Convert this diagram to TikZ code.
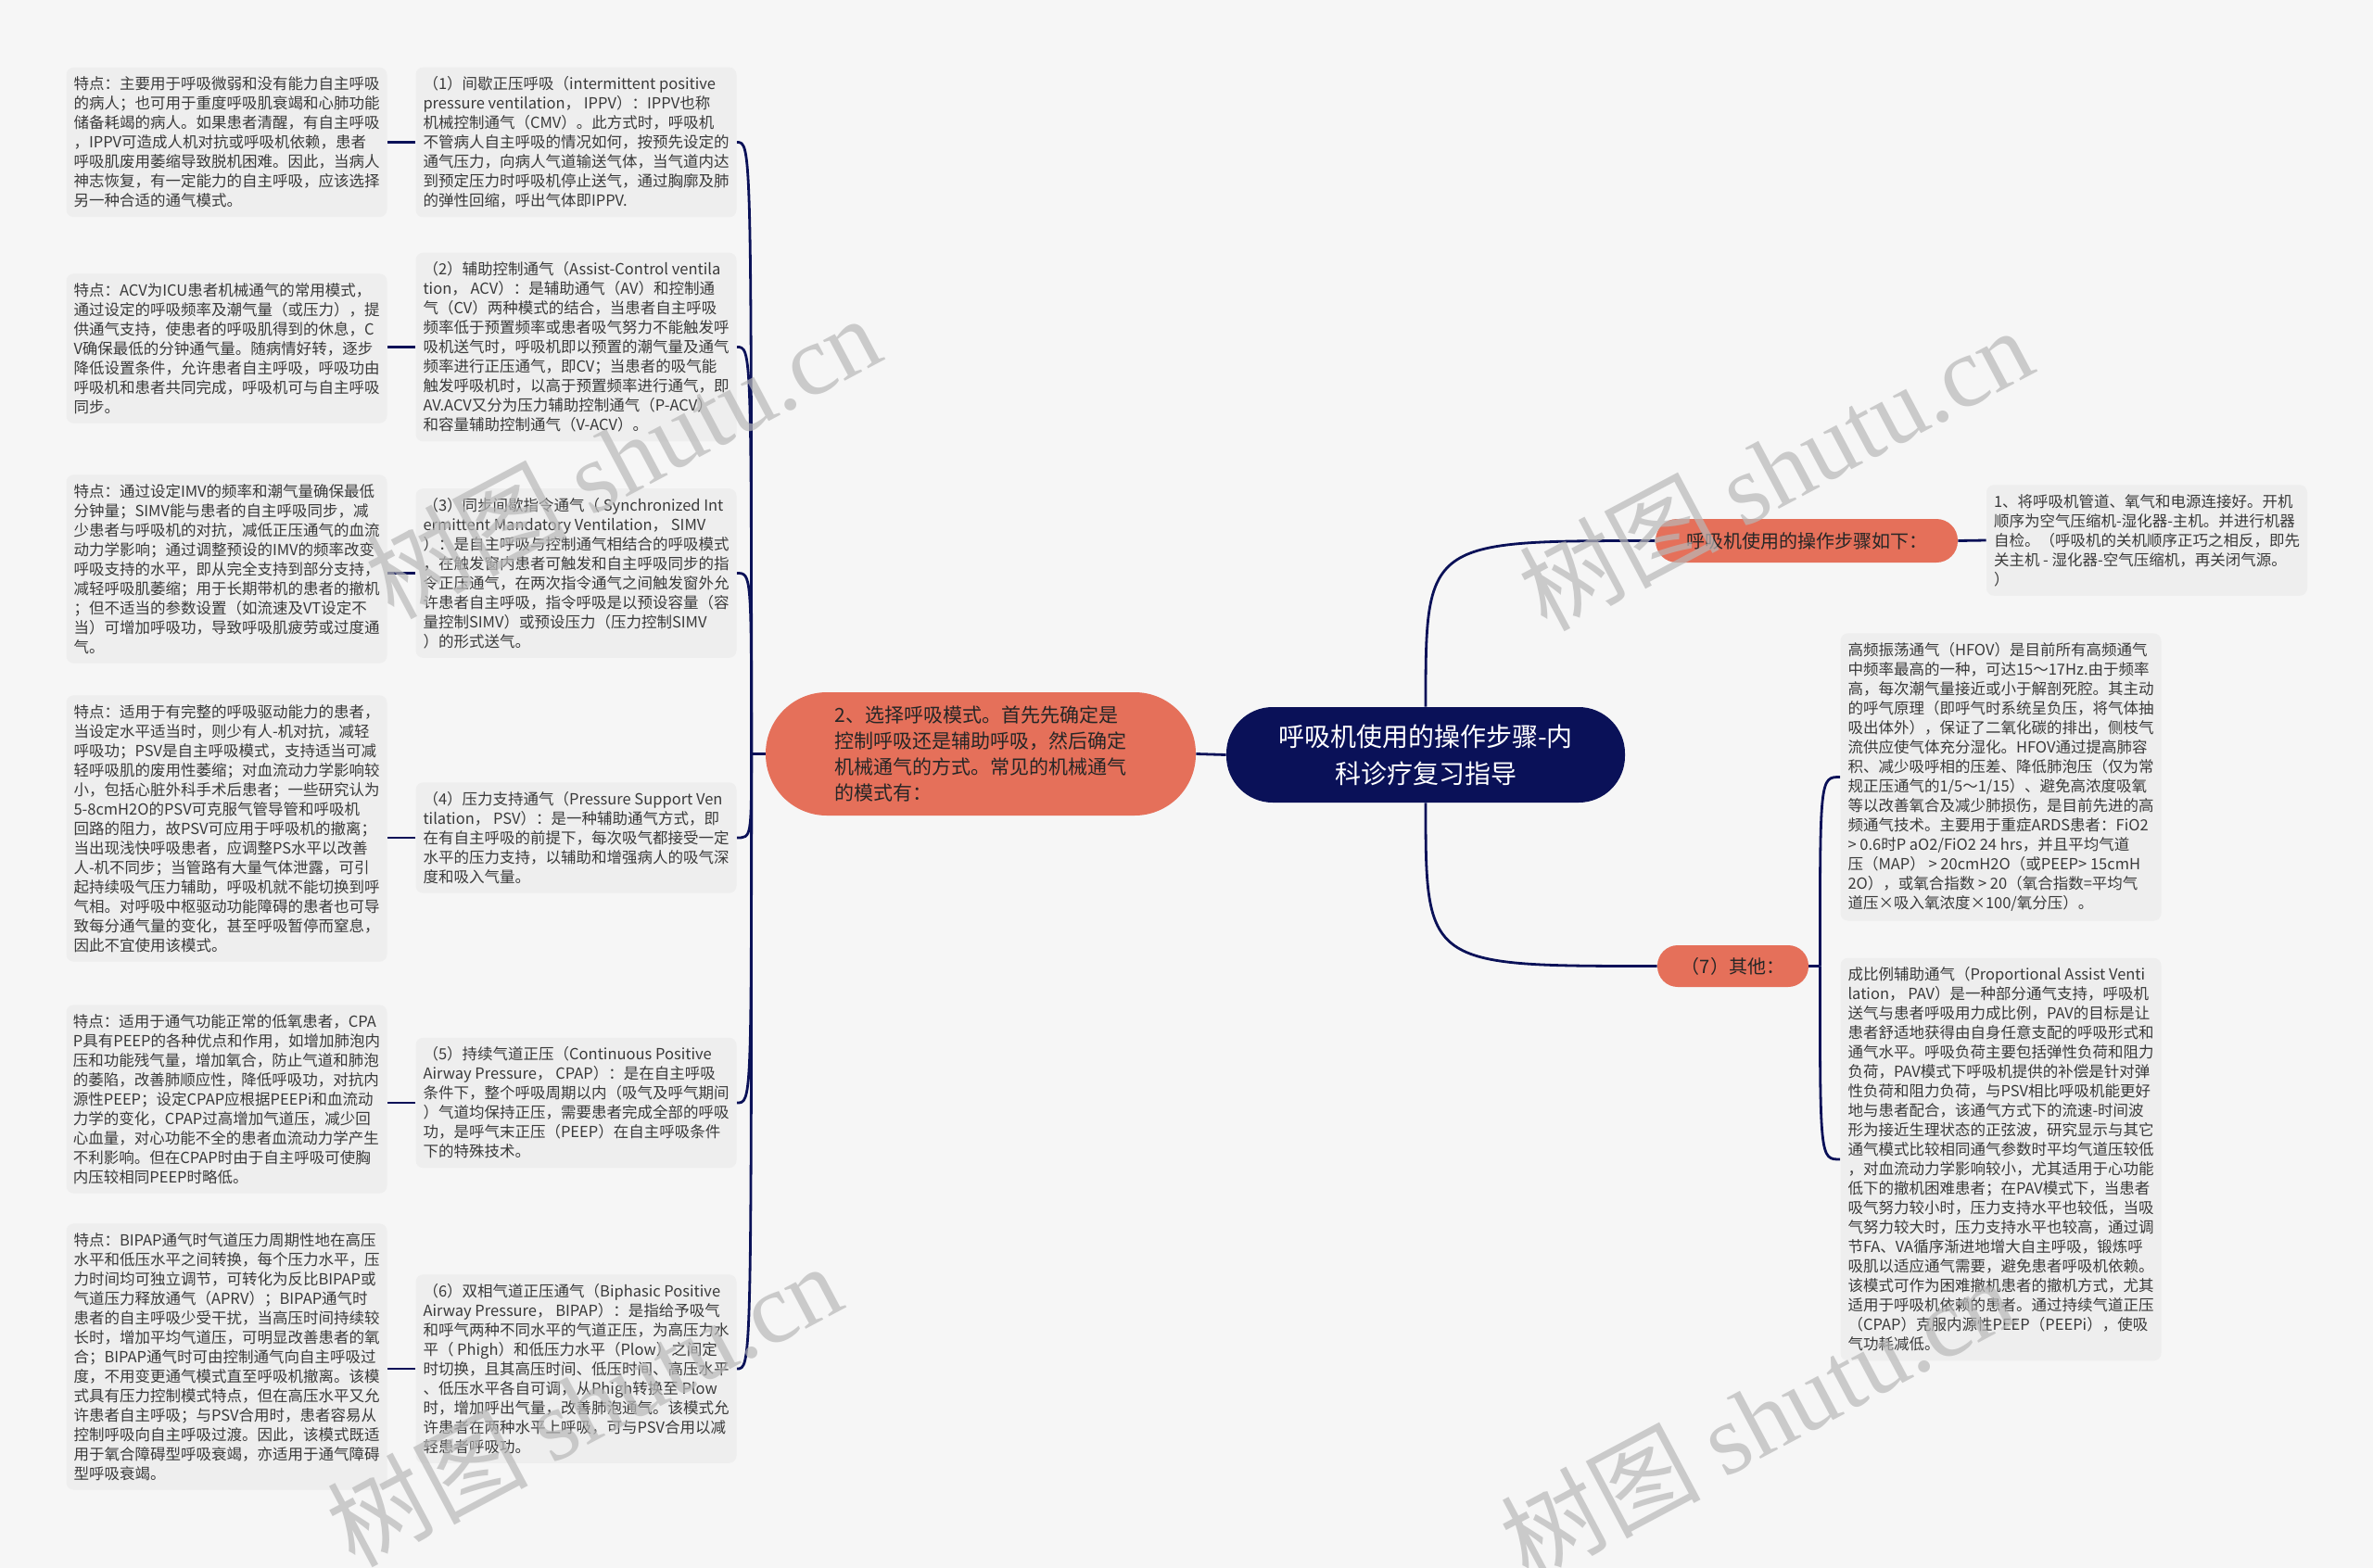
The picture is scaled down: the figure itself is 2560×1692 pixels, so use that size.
\documentclass[tikz,border=0pt]{standalone}
\usepackage{fontspec}
\setmainfont{Noto Sans CJK SC}
\newfontfamily\wmfont{Liberation Serif}
\usetikzlibrary{calc}
\definecolor{bgc}{HTML}{F6F6F6}
\definecolor{boxc}{HTML}{EEEEEE}
\definecolor{txt}{HTML}{3A3A3A}
\definecolor{navy}{HTML}{0A1158}
\definecolor{orng}{HTML}{E5705A}
\definecolor{wmc}{HTML}{B8B8B8}
\pgfdeclarelayer{bglayer}
\pgfsetlayers{bglayer,main}
\begin{document}
\begin{tikzpicture}[x=0.5pt,y=-0.5pt,
  tbox/.style={fill=boxc, rounded corners=4pt, align=left, inner xsep=3pt, inner ysep=5pt,
    minimum width=173pt, text=txt, font=\fontsize{8.25pt}{10.5pt}\selectfont},
  conn/.style={draw=navy, line width=1.4pt},
  onode/.style={fill=orng, text=black!85, inner sep=0pt},
  wm/.style={text=wmc, opacity=0.7, font=\fontsize{54pt}{54pt}\selectfont, rotate=28}
]
\begin{pgfonlayer}{bglayer}
\fill[bgc] (0,0) rectangle (2560,1692);
\end{pgfonlayer}
\useasboundingbox (0,0) rectangle (2560,1692);

% central node
\node[fill=navy, text=white, rounded corners=25pt, minimum width=215pt, minimum height=51.5pt,
  align=center, inner sep=0pt, font=\fontsize{14pt}{20pt}\selectfont] (c) at (1538,814.5)
  {呼吸机使用的操作步骤-内\\科诊疗复习指导};

% branch 2
\node[onode, rounded corners=33pt, minimum width=232pt, minimum height=66.5pt, align=left,
  font=\fontsize{10.5pt}{14pt}\selectfont] (n2) at (1058,813.5)
  {2、选择呼吸模式。首先先确定是\\控制呼吸还是辅助呼吸，然后确定\\机械通气的方式。常见的机械通气\\的模式有：};

% right branches
\node[onode, rounded corners=11.5pt, minimum width=163pt, minimum height=23.5pt,
  font=\fontsize{10pt}{12pt}\selectfont] (o1) at (1949,583.5) {呼吸机使用的操作步骤如下：};
\node[onode, rounded corners=11pt, minimum width=81.5pt, minimum height=22.5pt,
  font=\fontsize{10pt}{12pt}\selectfont] (o2) at (1869.5,1042.5) {（7）其他：};

\node[tbox] (tr) at (2316,583) {1、将呼吸机管道、氧气和电源连接好。开机\\
顺序为空气压缩机-湿化器-主机。并进行机器\\
自检。（呼吸机的关机顺序正巧之相反，即先\\
关主机 - 湿化器-空气压缩机，再关闭气源。\\
）};

\node[tbox] (r1) at (2158.5,838.5) {高频振荡通气（HFOV）是目前所有高频通气\\
中频率最高的一种，可达15～17Hz.由于频率\\
高，每次潮气量接近或小于解剖死腔。其主动\\
的呼气原理（即呼气时系统呈负压，将气体抽\\
吸出体外），保证了二氧化碳的排出，侧枝气\\
流供应使气体充分湿化。HFOV通过提高肺容\\
积、减少吸呼相的压差、降低肺泡压（仅为常\\
规正压通气的1/5～1/15）、避免高浓度吸氧\\
等以改善氧合及减少肺损伤，是目前先进的高\\
频通气技术。主要用于重症ARDS患者：FiO2\\
> 0.6时P aO2/FiO2 24 hrs，并且平均气道\\
压（MAP） > 20cmH2O（或PEEP> 15cmH\\
2O），或氧合指数 > 20（氧合指数=平均气\\
道压×吸入氧浓度×100/氧分压）。};

\node[tbox] (r2) at (2158.5,1251) {成比例辅助通气（Proportional Assist Venti\\
lation， PAV）是一种部分通气支持，呼吸机\\
送气与患者呼吸用力成比例，PAV的目标是让\\
患者舒适地获得由自身任意支配的呼吸形式和\\
通气水平。呼吸负荷主要包括弹性负荷和阻力\\
负荷，PAV模式下呼吸机提供的补偿是针对弹\\
性负荷和阻力负荷，与PSV相比呼吸机能更好\\
地与患者配合，该通气方式下的流速-时间波\\
形为接近生理状态的正弦波，研究显示与其它\\
通气模式比较相同通气参数时平均气道压较低\\
，对血流动力学影响较小，尤其适用于心功能\\
低下的撤机困难患者；在PAV模式下，当患者\\
吸气努力较小时，压力支持水平也较低，当吸\\
气努力较大时，压力支持水平也较高，通过调\\
节FA、VA循序渐进地增大自主呼吸，锻炼呼\\
吸肌以适应通气需要，避免患者呼吸机依赖。\\
该模式可作为困难撤机患者的撤机方式，尤其\\
适用于呼吸机依赖的患者。通过持续气道正压\\
（CPAP）克服内源性PEEP（PEEPi），使吸\\
气功耗减低。};

% middle column
\node[tbox] (m1) at (621.5,153.5) {（1）间歇正压呼吸（intermittent positive\\
pressure ventilation， IPPV）：IPPV也称\\
机械控制通气（CMV）。此方式时，呼吸机\\
不管病人自主呼吸的情况如何，按预先设定的\\
通气压力，向病人气道输送气体，当气道内达\\
到预定压力时呼吸机停止送气，通过胸廓及肺\\
的弹性回缩，呼出气体即IPPV.};

\node[tbox] (m2) at (621.5,374.5) {（2）辅助控制通气（Assist-Control ventila\\
tion， ACV）：是辅助通气（AV）和控制通\\
气（CV）两种模式的结合，当患者自主呼吸\\
频率低于预置频率或患者吸气努力不能触发呼\\
吸机送气时，呼吸机即以预置的潮气量及通气\\
频率进行正压通气，即CV；当患者的吸气能\\
触发呼吸机时，以高于预置频率进行通气，即\\
AV.ACV又分为压力辅助控制通气（P-ACV）\\
和容量辅助控制通气（V-ACV）。};

\node[tbox] (m3) at (621.5,618.5) {（3）同步间歇指令通气（ Synchronized Int\\
ermittent Mandatory Ventilation， SIMV\\
）：是自主呼吸与控制通气相结合的呼吸模式\\
，在触发窗内患者可触发和自主呼吸同步的指\\
令正压通气，在两次指令通气之间触发窗外允\\
许患者自主呼吸，指令呼吸是以预设容量（容\\
量控制SIMV）或预设压力（压力控制SIMV\\
）的形式送气。};

\node[tbox] (m4) at (621.5,904) {（4）压力支持通气（Pressure Support Ven\\
tilation， PSV）：是一种辅助通气方式，即\\
在有自主呼吸的前提下，每次吸气都接受一定\\
水平的压力支持，以辅助和增强病人的吸气深\\
度和吸入气量。};

\node[tbox] (m5) at (621.5,1190) {（5）持续气道正压（Continuous Positive\\
Airway Pressure， CPAP）：是在自主呼吸\\
条件下，整个呼吸周期以内（吸气及呼气期间\\
）气道均保持正压，需要患者完成全部的呼吸\\
功，是呼气末正压（PEEP）在自主呼吸条件\\
下的特殊技术。};

\node[tbox] (m6) at (621.5,1477) {（6）双相气道正压通气（Biphasic Positive\\
Airway Pressure， BIPAP）：是指给予吸气\\
和呼气两种不同水平的气道正压，为高压力水\\
平（ Phigh）和低压力水平（Plow）之间定\\
时切换，且其高压时间、低压时间、高压水平\\
、低压水平各自可调，从Phigh转换至 Plow\\
时，增加呼出气量，改善肺泡通气。该模式允\\
许患者在两种水平上呼吸，可与PSV合用以减\\
轻患者呼吸功。};

% left column
\node[tbox] (l1) at (244.5,153.5) {特点：主要用于呼吸微弱和没有能力自主呼吸\\
的病人；也可用于重度呼吸肌衰竭和心肺功能\\
储备耗竭的病人。如果患者清醒，有自主呼吸\\
，IPPV可造成人机对抗或呼吸机依赖，患者\\
呼吸肌废用萎缩导致脱机困难。因此，当病人\\
神志恢复，有一定能力的自主呼吸，应该选择\\
另一种合适的通气模式。};

\node[tbox] (l2) at (244.5,376) {特点：ACV为ICU患者机械通气的常用模式，\\
通过设定的呼吸频率及潮气量（或压力），提\\
供通气支持，使患者的呼吸肌得到的休息，C\\
V确保最低的分钟通气量。随病情好转，逐步\\
降低设置条件，允许患者自主呼吸，呼吸功由\\
呼吸机和患者共同完成，呼吸机可与自主呼吸\\
同步。};

\node[tbox] (l3) at (244.5,614) {特点：通过设定IMV的频率和潮气量确保最低\\
分钟量；SIMV能与患者的自主呼吸同步，减\\
少患者与呼吸机的对抗，减低正压通气的血流\\
动力学影响；通过调整预设的IMV的频率改变\\
呼吸支持的水平，即从完全支持到部分支持，\\
减轻呼吸肌萎缩；用于长期带机的患者的撤机\\
；但不适当的参数设置（如流速及VT设定不\\
当）可增加呼吸功，导致呼吸肌疲劳或过度通\\
气。};

\node[tbox] (l4) at (244.5,894) {特点：适用于有完整的呼吸驱动能力的患者，\\
当设定水平适当时，则少有人-机对抗，减轻\\
呼吸功；PSV是自主呼吸模式，支持适当可减\\
轻呼吸肌的废用性萎缩；对血流动力学影响较\\
小，包括心脏外科手术后患者；一些研究认为\\
5-8cmH2O的PSV可克服气管导管和呼吸机\\
回路的阻力，故PSV可应用于呼吸机的撤离；\\
当出现浅快呼吸患者，应调整PS水平以改善\\
人-机不同步；当管路有大量气体泄露，可引\\
起持续吸气压力辅助，呼吸机就不能切换到呼\\
气相。对呼吸中枢驱动功能障碍的患者也可导\\
致每分通气量的变化，甚至呼吸暂停而窒息，\\
因此不宜使用该模式。};

\node[tbox] (l5) at (244.5,1186) {特点：适用于通气功能正常的低氧患者，CPA\\
P具有PEEP的各种优点和作用，如增加肺泡内\\
压和功能残气量，增加氧合，防止气道和肺泡\\
的萎陷，改善肺顺应性，降低呼吸功，对抗内\\
源性PEEP；设定CPAP应根据PEEPi和血流动\\
力学的变化，CPAP过高增加气道压，减少回\\
心血量，对心功能不全的患者血流动力学产生\\
不利影响。但在CPAP时由于自主呼吸可使胸\\
内压较相同PEEP时略低。};

\node[tbox] (l6) at (244.5,1464) {特点：BIPAP通气时气道压力周期性地在高压\\
水平和低压水平之间转换，每个压力水平，压\\
力时间均可独立调节，可转化为反比BIPAP或\\
气道压力释放通气（APRV）；BIPAP通气时\\
患者的自主呼吸少受干扰，当高压时间持续较\\
长时，增加平均气道压，可明显改善患者的氧\\
合；BIPAP通气时可由控制通气向自主呼吸过\\
度，不用变更通气模式直至呼吸机撤离。该模\\
式具有压力控制模式特点，但在高压水平又允\\
许患者自主呼吸；与PSV合用时，患者容易从\\
控制呼吸向自主呼吸过渡。因此，该模式既适\\
用于氧合障碍型呼吸衰竭，亦适用于通气障碍\\
型呼吸衰竭。};

\coordinate (j1) at ($(n2.west)+(-15,0)$);
\coordinate (j2) at ($(o2.east)+(12,0)$);

\begin{pgfonlayer}{bglayer}
  \draw[conn] (n2.east) -- (c.west);
  \draw[conn] (c.north) .. controls (c.north |- o1.west) .. (o1.west);
  \draw[conn] (c.south) .. controls (c.south |- o2.west) .. (o2.west);
  \draw[conn] (o1.east) -- (tr.west);
  \draw[conn] (o2.east) -- (j2);
  \draw[conn] (j2) .. controls (j2 |- r1.west) .. (r1.west);
  \draw[conn] (j2) .. controls (j2 |- r2.west) .. (r2.west);
  \draw[conn] (n2.west) -- (j1);
  \foreach \m in {m1,m2,m3,m4,m5,m6}{
    \draw[conn] (j1) .. controls (j1 |- \m.east) .. (\m.east);
  }
  \foreach \m/\l in {m1/l1,m2/l2,m3/l3,m4/l4,m5/l5,m6/l6}{
    \draw[conn] (\m.west) -- (\m.west -| \l.east);
  }
\end{pgfonlayer}

% watermarks
\node[wm] (w1) at (672,492) {树图 {\wmfont shutu.cn}};
\node[wm] (w2) at (1915,505) {树图 {\wmfont shutu.cn}};
\node[wm] (w3) at (630,1515) {树图 {\wmfont shutu.cn}};
\node[wm] (w4) at (1895,1530) {树图 {\wmfont shutu.cn}};
\end{tikzpicture}
\end{document}
